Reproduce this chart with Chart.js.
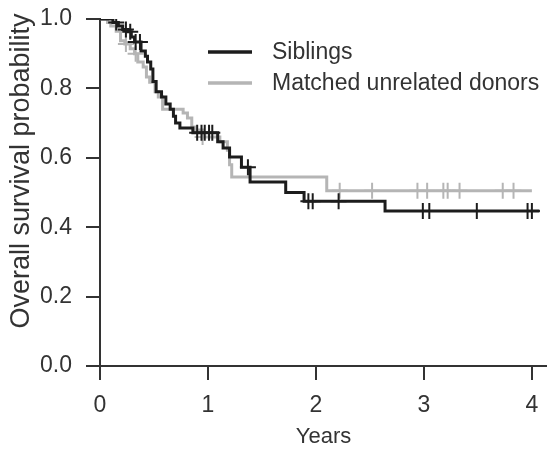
<!DOCTYPE html>
<html>
<head>
<meta charset="utf-8">
<title>Overall survival</title>
<script src="https://cdn.jsdelivr.net/npm/chart.js@4.4.1/dist/chart.umd.min.js"></script>
<style>
  html, body { margin: 0; padding: 0; background: #fff; }
  #wrap { width: 547px; height: 450px; }
</style>
</head>
<body>
<div id="wrap"><canvas id="os_chart" width="547" height="450"></canvas></div>
<script>
// Kaplan-Meier estimates: event times (years) and survival after each step
var sibTime = [0, 0.12, 0.17, 0.21, 0.26, 0.29, 0.32, 0.38, 0.42, 0.44, 0.47, 0.49, 0.52, 0.57, 0.61, 0.65, 0.68, 0.70, 0.74, 0.86, 1.09, 1.14, 1.20, 1.31, 1.39, 1.72, 1.89, 2.64, 4.07];
var sibSurv = [1.0, 0.99, 0.98, 0.97, 0.963, 0.948, 0.934, 0.908, 0.893, 0.876, 0.856, 0.82, 0.79, 0.775, 0.755, 0.74, 0.72, 0.70, 0.686, 0.672, 0.646, 0.628, 0.602, 0.573, 0.53, 0.50, 0.475, 0.447, 0.447];
var sibCensor = [0.15, 0.24, 0.28, 0.33, 0.37, 0.90, 0.94, 0.97, 1.01, 1.04, 1.37, 1.93, 1.97, 2.21, 2.99, 3.05, 3.49, 3.96, 4.00];

var mudTime = [0, 0.07, 0.10, 0.15, 0.19, 0.23, 0.28, 0.32, 0.35, 0.40, 0.43, 0.46, 0.51, 0.54, 0.58, 0.77, 0.81, 0.85, 0.88, 0.95, 1.11, 1.18, 1.20, 1.22, 2.10, 4.00];
var mudSurv = [1.0, 0.99, 0.98, 0.965, 0.937, 0.928, 0.914, 0.90, 0.876, 0.862, 0.833, 0.818, 0.79, 0.775, 0.74, 0.729, 0.715, 0.689, 0.68, 0.66, 0.646, 0.622, 0.58, 0.545, 0.505, 0.505];
var mudCensor = [0.24, 0.33, 0.95, 2.22, 2.52, 2.94, 3.03, 3.18, 3.22, 3.33, 3.73, 3.83];

var xTicks = [0, 1, 2, 3, 4];
var yTicks = [0, 0.2, 0.4, 0.6, 0.8, 1.0];

var sibColor = '#1c1c1c';
var mudColor = '#b5b5b5';
var inkColor = '#333333';
var fontFamily = '"Liberation Sans", Arial, Helvetica, sans-serif';

function toPoints(times, surv) {
    return times.map(function (t, i) { return { x: t, y: surv[i] }; });
}

// survival level in force at time t (last step at or before t)
function survAt(times, surv, t) {
    var s = surv[0];
    for (var i = 0; i < times.length; i++) {
        if (times[i] <= t) s = surv[i];
    }
    return s;
}

function censorPoints(censor, times, surv) {
    return censor.map(function (t) { return { x: t, y: survAt(times, surv, t) }; });
}

// no extra room around the axes for edge labels
function noEdgePadding(scale) {
    scale.paddingLeft = 0;
    scale.paddingRight = 0;
    scale.paddingTop = 0;
    scale.paddingBottom = 0;
}

// legend block and rotated y title
var extras = {
    id: 'extras',
    afterDraw: function (chart) {
        var ctx = chart.ctx;
        ctx.save();
        ctx.font = '23px ' + fontFamily;
        ctx.textBaseline = 'middle';
        ctx.textAlign = 'left';
        var row = 0;
        chart.data.datasets.forEach(function (ds) {
            if (!ds.label) return;
            var y = 52 + row * 31;
            ctx.strokeStyle = ds.borderColor;
            ctx.lineWidth = 3.5;
            ctx.beginPath();
            ctx.moveTo(208, y);
            ctx.lineTo(252, y);
            ctx.stroke();
            ctx.fillStyle = inkColor;
            ctx.fillText(ds.label, 272, y + 1);
            row++;
        });

        ctx.translate(22, 171);
        ctx.rotate(-Math.PI / 2);
        ctx.textAlign = 'center';
        ctx.font = '27px ' + fontFamily;
        ctx.fillText('Overall survival probability', 0, 0);
        ctx.restore();
    }
};

var config = {
    type: 'line',
    data: {
        datasets: [{
            label: 'Siblings',
            data: toPoints(sibTime, sibSurv),
            borderColor: sibColor,
            borderWidth: 3,
            stepped: true,
            pointRadius: 0,
            fill: false
        }, {
            data: censorPoints(sibCensor, sibTime, sibSurv),
            showLine: false,
            pointStyle: 'cross',
            pointRadius: 8,
            borderColor: sibColor,
            borderWidth: 2
        }, {
            label: 'Matched unrelated donors',
            data: toPoints(mudTime, mudSurv),
            borderColor: mudColor,
            borderWidth: 3,
            stepped: true,
            pointRadius: 0,
            fill: false
        }, {
            data: censorPoints(mudCensor, mudTime, mudSurv),
            showLine: false,
            pointStyle: 'cross',
            pointRadius: 8,
            borderColor: mudColor,
            borderWidth: 2
        }]
    },
    options: {
        responsive: false,
        animation: false,
        layout: {
            autoPadding: false,
            padding: { top: 19, right: 0, bottom: 0, left: 0 }
        },
        plugins: {
            legend: { display: false },
            tooltip: { enabled: false }
        },
        scales: {
            x: {
                type: 'linear',
                min: 0,
                max: 4.14,
                afterBuildTicks: function (scale) {
                    scale.ticks = xTicks.map(function (v) { return { value: v }; });
                },
                afterFit: function (scale) {
                    scale.height = 84;
                    noEdgePadding(scale);
                },
                grid: {
                    drawOnChartArea: false,
                    drawTicks: true,
                    tickLength: 14,
                    color: inkColor,
                    lineWidth: 2
                },
                border: { display: true, color: inkColor, width: 2 },
                ticks: {
                    color: inkColor,
                    padding: 12,
                    font: { family: fontFamily, size: 23 }
                },
                title: {
                    display: true,
                    text: 'Years',
                    color: inkColor,
                    padding: 0,
                    font: { family: fontFamily, size: 22 }
                }
            },
            y: {
                min: 0,
                max: 1,
                afterBuildTicks: function (scale) {
                    scale.ticks = yTicks.map(function (v) { return { value: v }; });
                },
                afterFit: function (scale) {
                    scale.width = 100;
                    noEdgePadding(scale);
                },
                grid: {
                    drawOnChartArea: false,
                    drawTicks: true,
                    tickLength: 14,
                    color: inkColor,
                    lineWidth: 2
                },
                border: { display: true, color: inkColor, width: 2 },
                ticks: {
                    color: inkColor,
                    padding: 14,
                    font: { family: fontFamily, size: 23 },
                    callback: function (v) { return v.toFixed(1); }
                }
            }
        }
    },
    plugins: [extras]
};

window.onload = function () {
    var ctx = document.getElementById('os_chart').getContext('2d');
    window.osChart = new Chart(ctx, config);
};
</script>
</body>
</html>
